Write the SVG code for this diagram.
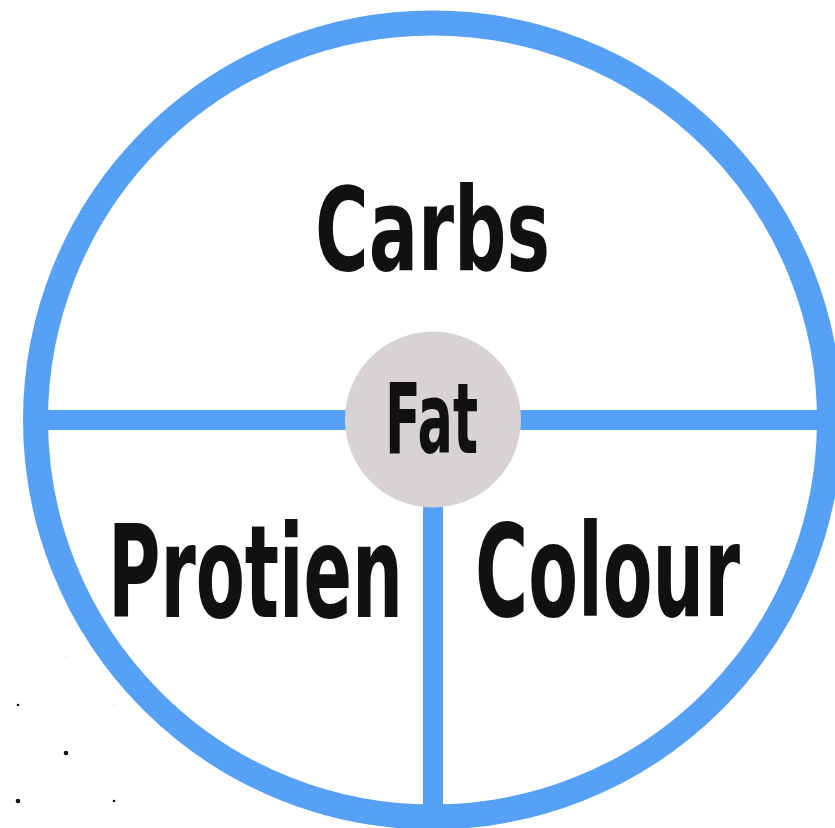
<svg xmlns="http://www.w3.org/2000/svg" width="835" height="828" viewBox="0 0 835 828">
<style>
.lbl{font-family:"DejaVu Sans Condensed","DejaVu Sans","Liberation Sans",sans-serif;font-weight:bold;fill:#111111}
.div{stroke:#56A0F5;stroke-width:20;fill:none}
</style>
<rect width="835" height="828" fill="#ffffff"/>
<g id="connectors">
<line class="div" x1="35" y1="420" x2="830" y2="420"/>
<line class="div" x1="433" y1="420" x2="433" y2="815"/>
</g>
<g id="plate">
<circle cx="432.5" cy="420" r="397" fill="none" stroke="#56A0F5" stroke-width="25"/>
</g>
<g id="fat">
<circle cx="433" cy="419.5" r="88" fill="#D6D2D6"/>
<text class="lbl" transform="translate(385,453) scale(1,1.685)" font-size="57.8" textLength="93" lengthAdjust="spacingAndGlyphs">Fat</text>
</g>
<g id="carbs">
<text class="lbl" transform="translate(315,270) scale(1,1.44)" font-size="81" textLength="235" lengthAdjust="spacingAndGlyphs">Carbs</text>
</g>
<g id="protien">
<text class="lbl" transform="translate(108,617) scale(1,1.62)" font-size="79.5" textLength="295" lengthAdjust="spacingAndGlyphs">Protien</text>
</g>
<g id="colour">
<text class="lbl" transform="translate(475,616) scale(1,1.6)" font-size="80.5" textLength="265" lengthAdjust="spacingAndGlyphs">Colour</text>
</g>
<g id="dots" fill="#111111">
<circle cx="18" cy="705" r="1.3"/>
<circle cx="66" cy="753" r="2.3"/>
<circle cx="18" cy="801" r="2.3"/>
<circle cx="114" cy="801" r="1.3"/>
<circle cx="66" cy="657" r="0.6" fill="#cccccc"/>
<circle cx="114" cy="705" r="0.6" fill="#cccccc"/>
</g>
</svg>
